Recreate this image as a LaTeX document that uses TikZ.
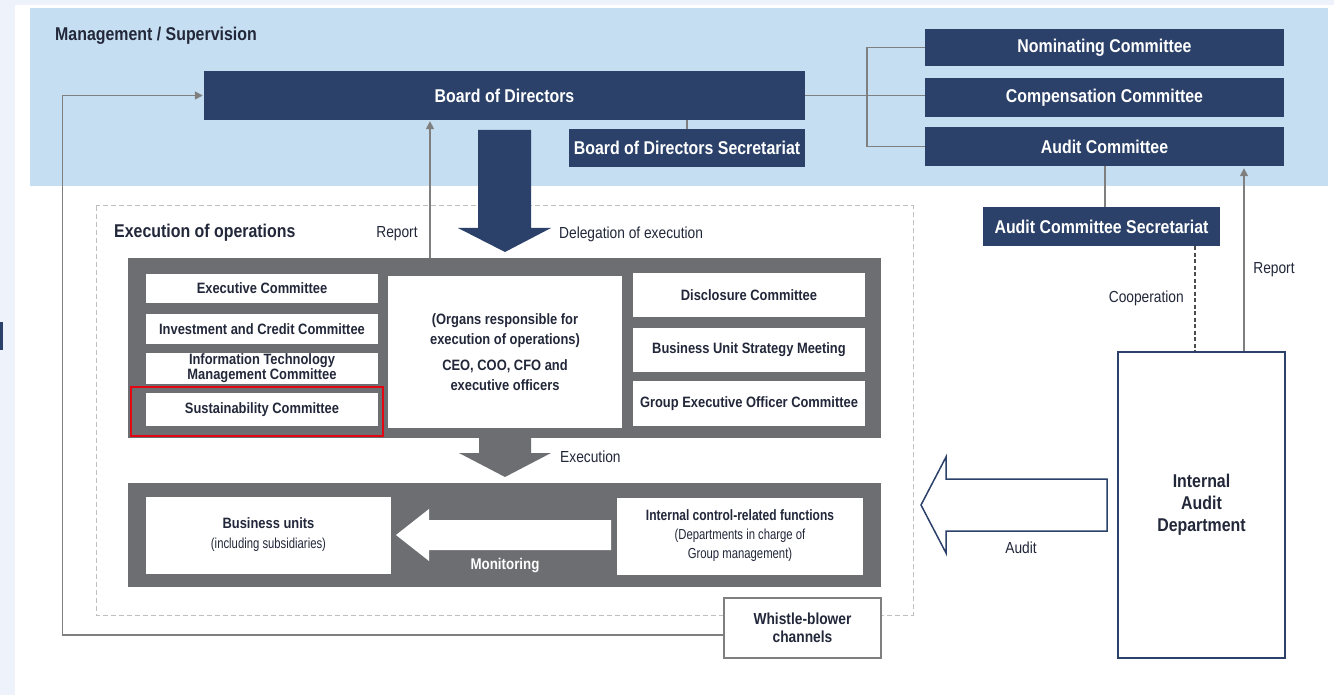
\documentclass[tikz,border=0pt]{standalone}
\usepackage{fontspec}
\setmainfont{Liberation Sans}[FakeStretch=0.86]
\usetikzlibrary{arrows.meta}
\definecolor{navy}{HTML}{2B4169}
\definecolor{skyb}{HTML}{C6DEF1}
\definecolor{grayb}{HTML}{6D6E71}
\definecolor{pagebg}{HTML}{EEF3FB}
\definecolor{txt}{HTML}{22283A}
\definecolor{connc}{HTML}{7F7F7F}
\definecolor{redb}{HTML}{E30613}
\newcommand\myfs[2]{\fontsize{#1}{#2}\selectfont}
\begin{document}
\begin{tikzpicture}[x=1pt,y=-1pt,
  nb/.style={fill=navy,text=white,inner sep=0pt,font=\bfseries\myfs{18.5}{20}},
  wbx/.style={fill=white,text=txt,inner sep=0pt,align=center,font=\bfseries\myfs{15}{16}},
  lbl/.style={text=txt,inner sep=0pt,font=\myfs{16}{17}},
  ttl/.style={text=txt,inner sep=0pt,font=\bfseries\myfs{18.5}{20}},
  conn/.style={draw=connc,line width=1.6pt},
  tip/.style={-{Triangle[length=8pt,width=8pt]}}
]
\useasboundingbox (0,0) rectangle (1334,695);
% backgrounds
\fill[pagebg] (0,0) rectangle (1334,695);
\fill[white] (15,5) rectangle (1334,695);
\fill[skyb] (30,8) rectangle (1328,186);
\fill[navy] (0,322) rectangle (3,350);

\node[ttl,anchor=west] (mgmt) at (55,36) {Management / Supervision};

% top boxes
\node[nb,minimum width=601pt,minimum height=49pt] (bod) at (504.5,95.5) {Board of Directors};
\node[nb,minimum width=236pt,minimum height=38pt] (bods) at (687,148) {Board of Directors Secretariat};
\node[nb,minimum width=359pt,minimum height=37pt] (nom) at (1104.5,47.5) {Nominating Committee};
\node[nb,minimum width=359pt,minimum height=39pt] (comp) at (1104.5,97.5) {Compensation Committee};
\node[nb,minimum width=359pt,minimum height=39pt] (aud) at (1104.5,146.5) {Audit Committee};
\node[nb,minimum width=237pt,minimum height=39pt] (auds) at (1101.5,226.5) {Audit Committee Secretariat};

% connectors top
\coordinate (brx) at (867,0);
\draw[conn] (bods.north) -- (bods.north |- bod.south);
\draw[conn] (bod.east) -- (comp.west |- bod.east);
\draw[conn] (nom.west) -- (nom.west -| brx) -- (aud.west -| brx) -- (aud.west);
\draw[conn] (aud.south -| auds.north) ++(3.5,0) coordinate (ax) -- (ax |- auds.north);

% execution dashed region
\draw[draw=black!25,line width=1pt,dash pattern=on 5pt off 3pt] (96,206) rectangle (913,615);
\node[ttl,anchor=west] (exop) at (114,233) {Execution of operations};

% delegation arrow
\fill[navy] (478,130) -- (531,130) -- (531,228) -- (551,228) -- (505,252) -- (458,228) -- (478,228) -- cycle;
\node[lbl,anchor=west] (deleg) at (559,234) {Delegation of execution};
\node[lbl] (rep1) at (397,234) {Report};

% gray block 1
\node[fill=grayb,minimum width=753pt,minimum height=180pt,inner sep=0pt] (g1) at (504.5,348) {};
\node[wbx,minimum width=232pt,minimum height=29pt] (exc) at (262,288.5) {Executive Committee};
\node[wbx,minimum width=232pt,minimum height=30pt] (inv) at (262,329) {Investment and Credit Committee};
\node[wbx,minimum width=232pt,minimum height=31pt,font=\bfseries\myfs{15}{12.5}] (itm) at (262,368.5) {Information Technology\\Management Committee};
\node[wbx,minimum width=232pt,minimum height=33pt] (sus) at (262,409.5) {Sustainability Committee};
\draw[redb,line width=2pt] (131,387) rectangle (383,436);
\node[wbx,minimum width=234pt,minimum height=152pt,font=\bfseries\myfs{15}{20}] (ceo) at (505,352) {(Organs responsible for\\execution of operations)\\[6pt]CEO, COO, CFO and\\executive officers};
\node[wbx,minimum width=232pt,minimum height=44pt] (disc) at (749,295) {Disclosure Committee};
\node[wbx,minimum width=232pt,minimum height=44pt] (bus) at (749,350) {Business Unit Strategy Meeting};
\node[wbx,minimum width=232pt,minimum height=45pt] (grp) at (749,403.5) {Group Executive Officer Committee};

% report arrow left
\coordinate (repx) at (430,0);
\draw[conn,tip] (g1.north -| repx) -- ([yshift=-1pt]bod.south -| repx);

% execution arrow
\fill[grayb] (479,437) -- (531,437) -- (531,453) -- (551,453) -- (505,477) -- (459,453) -- (479,453) -- cycle;
\node[lbl,anchor=west] (execl) at (560,457) {Execution};

% gray block 2
\node[fill=grayb,minimum width=753pt,minimum height=104pt,inner sep=0pt] (g2) at (504.5,535) {};
\node[wbx,minimum width=245pt,minimum height=77pt,font=\myfs{15}{20}] (bu) at (268.5,535) {\textbf{Business units}\\{\myfs{14.5}{16}\addfontfeatures{FakeStretch=0.78}(including subsidiaries)}};
\node[wbx,minimum width=246pt,minimum height=77pt,font=\myfs{14.5}{19}] (icf) at (740,536) {{\bfseries\myfs{15}{20}\addfontfeatures{FakeStretch=0.8}Internal control-related functions}\\{\addfontfeatures{FakeStretch=0.78}(Departments in charge of}\\{\addfontfeatures{FakeStretch=0.78}Group management)}};
\fill[white] (611,520) -- (429,520) -- (429,509) -- (396,535) -- (429,561) -- (429,550) -- (611,550) -- cycle;
\node[text=white,font=\bfseries\myfs{15.5}{17},inner sep=0pt] (mon) at (505,566) {Monitoring};

% whistle-blower
\node[wbx,draw=connc,line width=1.4pt,minimum width=157pt,minimum height=60pt,font=\bfseries\myfs{16}{18}] (wb) at (802.5,628) {Whistle-blower\\channels};
\draw[conn,tip] ([yshift=-7pt]wb.west) -- ++(-661,0) |- ([xshift=-1pt]bod.west);

% internal audit department
\node[fill=white,draw=navy,line width=2.6pt,minimum width=167pt,minimum height=306pt,inner sep=0pt,align=center,text=txt,font=\bfseries\myfs{18.5}{22}] (iad) at (1201.5,505) {Internal\\Audit\\Department};

% cooperation / report right
\coordinate (coopx) at (1195,0);
\coordinate (rep2x) at (1244,0);
\draw[draw=black!70,line width=1.2pt,dash pattern=on 4pt off 2.5pt] (auds.south -| coopx) -- (iad.north -| coopx);
\draw[conn,tip] (iad.north -| rep2x) -- ([yshift=-2pt]aud.south -| rep2x);
\node[lbl,anchor=east] (coopl) at (1184,298) {Cooperation};
\node[lbl] (rep2) at (1274,270) {Report};

% audit arrow
\draw[draw=navy,fill=white,line width=1.5pt,line join=miter] (1107,479) -- (946,479) -- (946,457) -- (921,505) -- (946,553) -- (946,531) -- (1107,531) -- cycle;
\node[lbl] (audl) at (1021,548) {Audit};
\end{tikzpicture}
\end{document}
